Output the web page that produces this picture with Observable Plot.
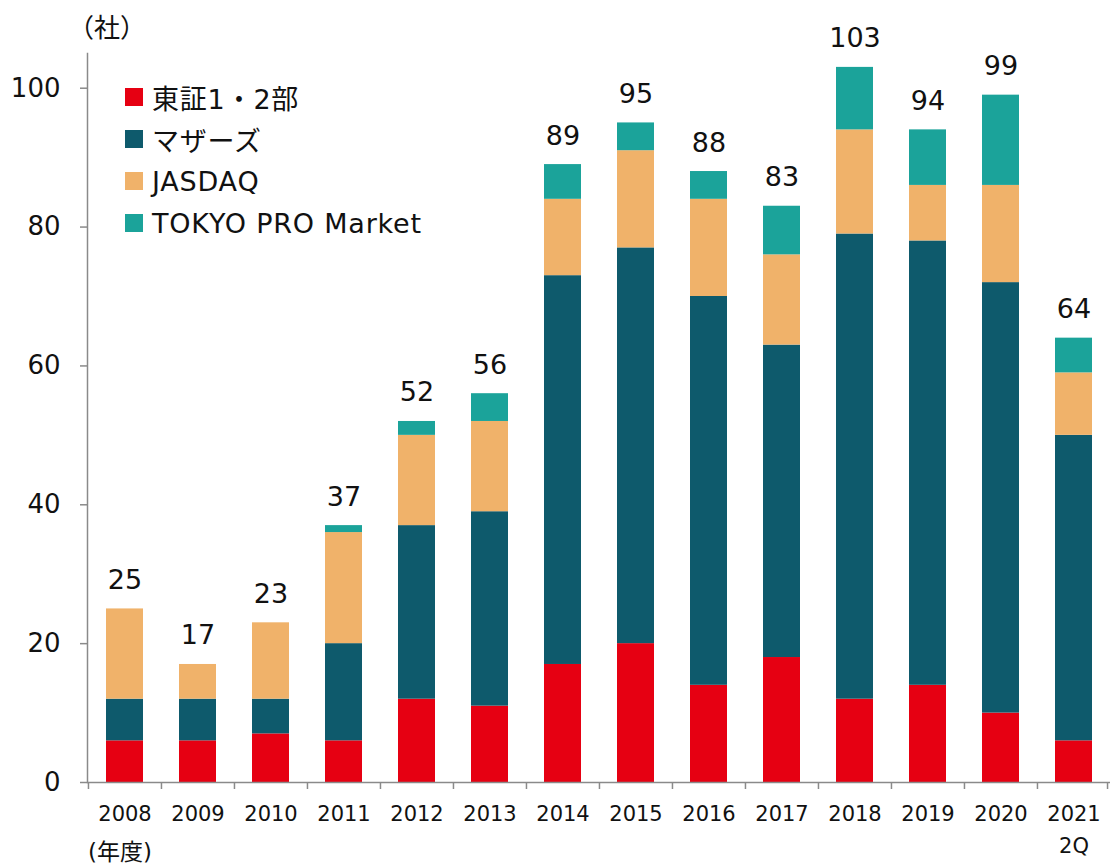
<!DOCTYPE html>
<html>
<head>
<meta charset="utf-8">
<script src="https://cdn.jsdelivr.net/npm/d3@7"></script>
<script src="https://cdn.jsdelivr.net/npm/@observablehq/plot@0.6"></script>
<style>
  body { margin: 0; background: #fff; }
  #wrap { position: relative; width: 1110px; height: 866px; font-family: "DejaVu Sans", "Noto Sans CJK JP", sans-serif; color: #111; }
  #wrap svg { position: absolute; left: 0; top: 0; }
  .unit { position: absolute; left: 68px; top: 7px; font-size: 26px; }
  .xunit { position: absolute; left: 88px; top: 833px; font-size: 23px; }
  #legend { position: absolute; left: 125px; top: 76px; }
  .row { display: flex; align-items: center; height: 42px; font-size: 27px; letter-spacing: 0.8px; }
  .sw { width: 18px; height: 18px; margin-right: 9px; }
</style>
</head>
<body>
<div id="wrap">
  <div class="unit">（社）</div>
  <div class="xunit">(年度)</div>
  <div id="legend"></div>
</div>
<script>
const years = ["2008","2009","2010","2011","2012","2013","2014","2015","2016","2017","2018","2019","2020","2021\n2Q"];
const seriesNames = ["東証1・2部", "マザーズ", "JASDAQ", "TOKYO PRO Market"];
const seriesColors = ["#E60012", "#0E5A6C", "#F0B26A", "#1BA39A"];
const tse = [6, 6, 7, 6, 12, 11, 17, 20, 14, 18, 12, 14, 10, 6];
const mothers = [6, 6, 5, 14, 25, 28, 56, 57, 56, 45, 67, 64, 62, 44];
const jasdaq = [13, 5, 11, 16, 13, 13, 11, 14, 14, 13, 15, 8, 14, 9];
const proMarket = [0, 0, 0, 1, 2, 4, 5, 4, 4, 7, 9, 8, 13, 5];
const yTicks = [0, 20, 40, 60, 80, 100];

const seriesValues = [tse, mothers, jasdaq, proMarket];
const rows = [];
years.forEach((y, i) => {
  seriesNames.forEach((s, k) => rows.push({year: y, series: s, value: seriesValues[k][i]}));
});
const totals = years.map((y, i) => ({year: y, total: seriesValues.reduce((a, arr) => a + arr[i], 0)}));

const W = 1110, H = 866, mL = 87, mR = 0, mT = 53, mB = 84;
const step = (W - mL - mR) / years.length;
const font = '"DejaVu Sans", "Noto Sans CJK JP", sans-serif';
const axisColor = "#8a8a8a";

const chart = Plot.plot({
  width: W, height: H,
  marginLeft: mL, marginRight: mR, marginTop: mT, marginBottom: mB,
  style: {fontFamily: font, color: "#111", background: "transparent"},
  x: {domain: years, paddingInner: 0.5, paddingOuter: 0.25, align: 0.5, label: null},
  y: {domain: [0, 105], label: null},
  color: {domain: seriesNames, range: seriesColors},
  marks: [
    Plot.frame({anchor: "left", stroke: axisColor, strokeWidth: 1.5}),
    Plot.barY(rows, {x: "year", y: "value", fill: "series", order: seriesNames}),
    Plot.ruleY([0], {stroke: axisColor, strokeWidth: 1.5}),
    Plot.ruleX(years, {x: d => d, y1: 0, y2: 0, dx: -step / 2, insetBottom: -7, stroke: axisColor, strokeWidth: 1.5}),
    Plot.ruleX(years.slice(-1), {x: d => d, y1: 0, y2: 0, dx: step / 2 - 3, insetBottom: -7, stroke: axisColor, strokeWidth: 1.5}),
    Plot.axisY({ticks: yTicks, tickSize: 7, tickPadding: 20, fontSize: 26, stroke: axisColor, strokeWidth: 1.5, label: null}),
    Plot.axisX({tickSize: 0, tickPadding: 15, fontSize: 21, label: null, lineHeight: 1.55}),
    Plot.text(totals, {x: "year", y: "total", text: "total", dy: d => 0, lineAnchor: "bottom", fontSize: 27, fill: "#111",
      dy: -20})
  ]
});
document.getElementById("wrap").insertBefore(chart, document.getElementById("wrap").firstChild);

const legend = document.getElementById("legend");
seriesNames.forEach((s, k) => {
  const r = document.createElement("div");
  r.className = "row";
  r.innerHTML = `<span class="sw" style="background:${seriesColors[k]}"></span><span>${s}</span>`;
  legend.appendChild(r);
});
</script>
</body>
</html>
